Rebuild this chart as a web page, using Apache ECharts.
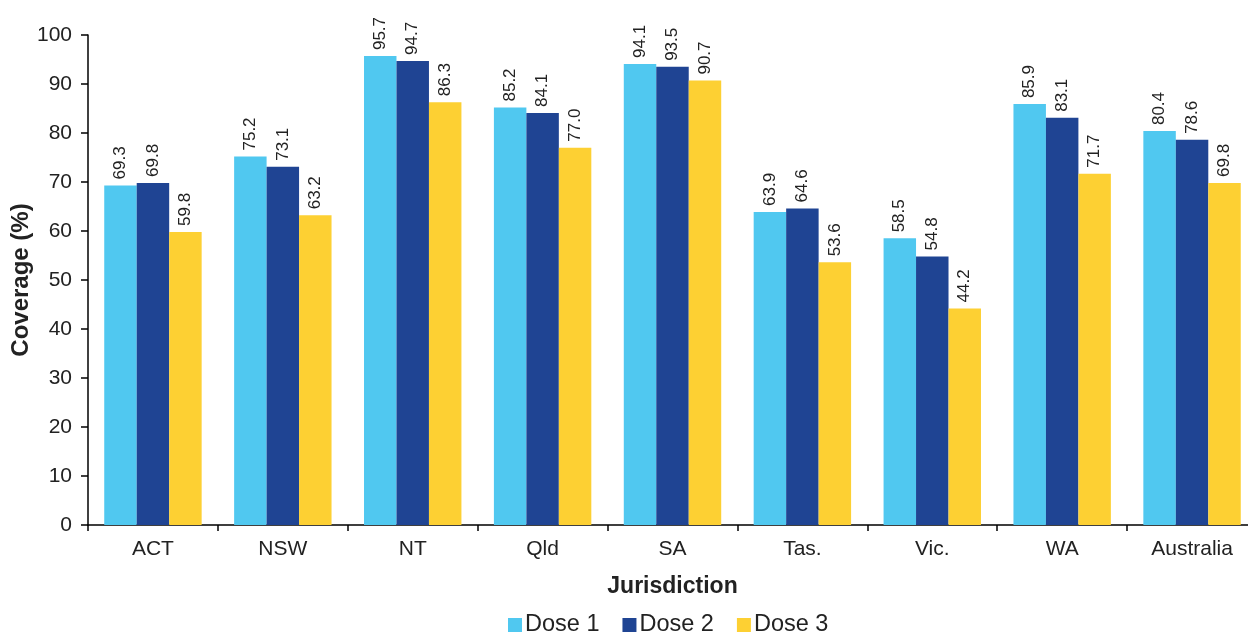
<!DOCTYPE html>
<html><head><meta charset="utf-8">
<script src="https://cdn.jsdelivr.net/npm/echarts@6/dist/echarts.min.js"></script>
<style>html,body{margin:0;padding:0;background:#fff;overflow:hidden}#c{width:1248px;height:633px}</style>
</head><body><div id="c"></div>
<script>
const categories = ['ACT','NSW','NT','Qld','SA','Tas.','Vic.','WA','Australia'];
const dose1 = [69.3, 75.2, 95.7, 85.2, 94.1, 63.9, 58.5, 85.9, 80.4];
const dose2 = [69.8, 73.1, 94.7, 84.1, 93.5, 64.6, 54.8, 83.1, 78.6];
const dose3 = [59.8, 63.2, 86.3, 77.0, 90.7, 53.6, 44.2, 71.7, 69.8];
const seriesNames = ['Dose 1','Dose 2','Dose 3'];
const yTicks = [0,10,20,30,40,50,60,70,80,90,100];
const colors = ['#50C8F0','#1F4493','#FDD033'];
const font = 'Liberation Sans, Arial, sans-serif';
const chart = echarts.init(document.getElementById('c'));
function mk(name, data, color){
  return {
    name, type:'bar', data, barGap:'0%', barCategoryGap:'25%',
    itemStyle:{color},
    label:{show:true, position:'top', rotate:90, align:'left', verticalAlign:'middle', distance:6,
      formatter:p=>p.value.toFixed(1), fontFamily:font, fontSize:17, color:'#222'}
  };
}
chart.setOption({
  animation:false,
  textStyle:{fontFamily:font},
  grid:{left:88, width:1169, top:35, bottom:108, outerBoundsMode:'none', containLabel:false},
  legend:{top:608, left:503, itemWidth:14, itemHeight:14, itemGap:23,
    icon:'rect', textStyle:{fontSize:23.5, color:'#222', fontFamily:font, padding:[0,0,0,-2]},
    data:seriesNames},
  xAxis:{type:'category', data:categories, name:'Jurisdiction', nameLocation:'middle', nameGap:50,
    nameMoveOverlap:false,
    nameTextStyle:{fontSize:23, fontWeight:'bold', color:'#222', fontFamily:font},
    axisLine:{lineStyle:{color:'#000', width:1.5}},
    axisTick:{show:true, length:6, lineStyle:{color:'#000', width:1.5}},
    axisLabel:{fontSize:21, color:'#222', margin:14, fontFamily:font}},
  yAxis:{type:'value', min:yTicks[0], max:yTicks[yTicks.length-1], interval:10, name:'Coverage (%)', nameLocation:'middle', nameGap:55,
    nameMoveOverlap:false,
    nameTextStyle:{fontSize:24, fontWeight:'bold', color:'#222', fontFamily:font},
    axisLine:{show:true, lineStyle:{color:'#000', width:1.5}},
    axisTick:{show:true, length:7, lineStyle:{color:'#000', width:1.5}},
    splitLine:{show:false},
    axisLabel:{fontSize:21, color:'#222', margin:16, fontFamily:font}},
  series:[mk(seriesNames[0],dose1,colors[0]), mk(seriesNames[1],dose2,colors[1]), mk(seriesNames[2],dose3,colors[2])]
});
</script></body></html>
